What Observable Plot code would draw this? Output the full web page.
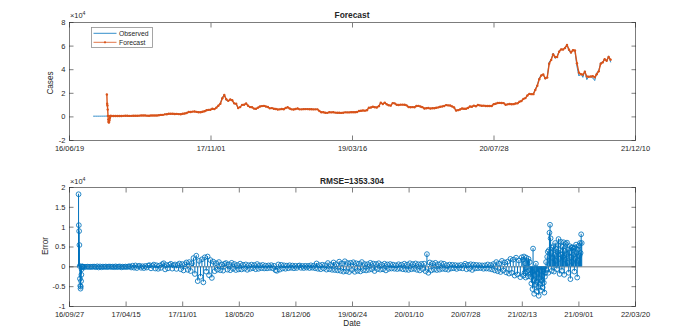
<!DOCTYPE html>
<html><head><meta charset="utf-8">
<script src="https://cdn.jsdelivr.net/npm/d3@7"></script>
<script src="https://cdn.jsdelivr.net/npm/@observablehq/plot@0.6"></script>
<style>
body{margin:0;background:#fff;}
#wrap{position:relative;width:692px;height:329px;font-family:"Liberation Sans",Arial,Helvetica,sans-serif;color:#262626;overflow:hidden;}
.abs{position:absolute;white-space:nowrap;line-height:1;}
.title{font-weight:bold;font-size:8.4px;transform:translate(-50%,-50%);}
.lab{font-size:8.2px;transform:translate(-50%,-50%);}
.rot{transform:translate(-50%,-50%) rotate(-90deg);}
.exp{font-size:7.4px;}
.exp sup{font-size:5.2px;vertical-align:0;position:relative;top:-3.5px;}
</style></head><body><div id="wrap"></div>
<script>
// ---------- data ----------
const seriesNames = ["Observed", "Forecast"];
const seriesColors = ["#0072BD", "#D95319"];
const topTitle = "Forecast";
const bottomTitle = "RMSE=1353.304";
const topYLabel = "Cases";
const bottomYLabel = "Error";
const bottomXLabel = "Date";

const topXDomain = ["2016-06-19", "2021-12-10"];
const topXTicks = ["2016-06-19", "2017-11-01", "2019-03-16", "2020-07-28", "2021-12-10"];
const topYDomain = [-20000, 80000];
const topYTicks = [-20000, 0, 20000, 40000, 60000, 80000];

const bottomXDomain = ["2016-09-27", "2022-03-20"];
const bottomXTicks = ["2016-09-27", "2017-04-15", "2017-11-01", "2018-05-20", "2018-12-06", "2019-06-24",
  "2020-01-10", "2020-07-28", "2021-02-13", "2021-09-01", "2022-03-20"];
const bottomYDomain = [-10000, 20000];
const bottomYTicks = [-10000, -5000, 0, 5000, 10000, 15000, 20000];

// observed cases, weekly from 2016-09-12
const observedStart = "2016-09-12";
const observedStepDays = 7;
const observed = [
  608,610,606,612,640,638,655,700,710,712,
  738,730,765,780,800,930,1020,900,830,920,
  965,1030,1000,1050,1190,1230,1240,1040,1030,1140,
  1180,1200,1250,1420,1720,1720,2250,2300,2700,2650,
  2700,2450,2600,2330,2250,2750,2850,3400,4300,4100,
  4550,4600,4200,3900,3900,4400,4800,5700,6000,6100,
  7000,6500,8000,9700,11500,16500,19000,14000,13500,15000,
  13800,11000,11200,7000,8500,10500,10300,11500,9100,8200,
  8100,6900,6800,8000,8900,9200,9400,8700,8400,7100,
  7500,6800,6700,6200,6400,6700,6500,7700,8200,7000,
  6300,6300,6800,7200,6300,6400,6600,6600,6600,6450,
  6500,6350,6400,6400,4800,3800,4000,3500,3400,4000,
  3800,4000,3600,3550,3450,3400,3600,3900,3800,3800,
  3900,4000,4000,4150,5150,5200,5400,5300,5700,8000,
  7900,8700,8100,8000,9200,12400,10500,12300,10500,9800,
  9500,11900,11400,10200,10100,10400,10400,10300,9700,8300,
  8200,8300,8200,9500,9300,8700,8200,7000,7400,7500,
  7000,7300,7300,7800,8100,8600,8900,9300,10100,9700,
  9600,8800,7900,5000,5800,6400,7200,6900,6900,7700,
  8900,8600,9700,8900,10200,9700,9400,9600,9200,9300,
  9250,9200,11000,11200,11800,11900,11700,11700,10100,10700,
  10900,10700,10800,11400,11500,13000,13600,15500,16000,18400,
  19700,19200,19300,23500,27000,33000,35500,36000,32000,33500,
  46500,48700,54000,49600,51000,56000,57500,57000,58700,61500,
  56000,54000,57000,56000,43000,34700,36600,33500,39000,31600,
  34500,34000,33000,30800,37300,39000,46000,46000,49500,47000,
  51700,46500
];

// forecast: daily start-up transient, then weekly
const forecastDailyStart = "2016-10-29";
const forecastDaily = [19000,11200,9700,6200,900,-2300,-4200,-4800,-4300,-2900,-1300,100,700,720];
const forecastWeeklyStart = "2016-11-14";
const forecastStepDays = 7;
const forecastWeekly = [
  705,730,735,758,776,792,905,1000,915,840,
  905,960,1020,1005,1040,1170,1225,1235,1060,1025,
  1130,1175,1195,1240,1390,1680,1730,2180,2280,2640,
  2680,2690,2500,2580,2370,2270,2680,2830,3320,4150,
  4180,4480,4580,4300,3950,3880,4330,4750,5580,5950,
  6080,6900,6620,7850,9500,11200,15800,18500,14900,13600,
  14700,14100,11500,11100,7600,8300,10200,10350,11300,9400,
  8300,8150,7050,6850,7850,8800,9150,9350,8800,8450,
  7250,7450,6900,6720,6280,6380,6660,6530,7580,8150,
  7120,6400,6310,6750,7150,6380,6390,6580,6600,6590,
  6470,6490,6370,6390,6410,5000,3950,3980,3560,3420,
  3930,3820,3980,3650,3560,3470,3410,3580,3870,3810,
  3800,3890,3990,4000,4130,5000,5190,5380,5310,5650,
  7800,7950,8600,8200,8010,9100,12000,10900,12100,10700,
  9900,9550,11700,11450,10300,10120,10380,10400,10310,9780,
  8450,8220,8290,8220,9300,9330,8760,8250,7150,7360,
  7490,7060,7270,7300,7750,8070,8550,8870,9260,10000,
  9760,9610,8900,8000,5400,5700,6330,7100,6940,6900,
  7600,8760,8640,9580,9000,10050,9760,9430,9580,9250,
  9290,9250,9210,10800,11180,11720,11890,11720,11700,10300,
  10640,10880,10720,10790,11330,11490,12800,13520,15250,15950,
  18100,19500,19300,19280,22900,26400,32000,35100,35900,32800,
  33300,45000,48300,53000,50800,50700,55200,57200,57100,58400,
  61000,57000,54600,56500,56300,45500,37500,36200,35800,38200,
  34200,34000,34200,34500,33600,36200,38600,45000,46200,48800,
  47600,50800,48500
];

// forecast error: daily start-up transient, every 5 days to mid-Feb 2021, then every 2 days
const errorDailyStart = "2016-10-29";
const errorDaily = [18300,10500,9000,5500,200,-3000,-4800,-5500,-5000,-3600,-2000,-600,100,30,-40,60];
const errorStart = "2016-11-14";
const errorStepDays = 5;
const errorValues = [
  20,-35,15,40,-25,30,-50,60,45,-70,
  120,-150,90,-110,60,-40,80,-55,35,70,
  -45,60,-80,110,-60,40,95,-130,50,-40,
  70,-55,90,140,
  -160,280,-220,350,-300,180,260,-240,150,-310,
  220,-180,320,420,-380,250,560,-420,380,-500,
  310,-260,680,900,-640,450,-380,520,760,-450,
  380,600,-520,450,820,-600,700,
  -900,650,1100,-750,1200,-1050,900,
  2200,-1800,2800,-3600,1500,-2500,1900,-3900,
  2400,-1200,2600,-2100,1700,-2800,1300,
  -1100,900,-700,1200,-850,600,-950,750,
  950,-700,600,-850,1000,-500,700,-800,450,-650,
  800,-650,500,-450,600,-750,400,-500,550,-350,
  450,-600,700,-500,380,-320,480,-400,300,-380,
  350,-280,420,-350,250,-850,-1000,600,-700,500,
  -420,380,-480,300,-350,400,-250,320,-360,260,
  -280,220,340,-250,230,-300,260,-200,240,-300,
  380,-220,280,-350,850,-500,400,-600,520,-380,
  420,-700,950,-600,520,-750,1100,-800,650,
  -900,1300,-1000,850,-1200,1400,-1100,950,-1300,1000,
  -800,1150,-1250,900,-1000,800,-1150,1200,-850,700,
  -900,650,-750,1000,-600,820,-1050,720,-550,900,
  -700,520,-620,780,-900,600,-520,700,-420,560,
  -480,400,-550,650,-450,520,-600,780,-700,560,
  -780,900,-600,700,-520,850,-760,640,-900,740,
  -560,800,-1100,
  3200,
  -1500,1100,-900,850,-700,1000,
  -800,600,-700,900,-500,780,-600,420,-720,560,
  -420,500,-350,440,-520,360,-300,460,-380,300,
  780,-600,500,-450,650,-780,560,-400,470,-340,
  420,-300,360,-480,380,-420,600,-500,440,-650,
  700,-900,1200,-1100,800,-1300,1500,-900,1100,-1400,
  1300,-1700,2000,-1500,1800,-2200,2300,-1900,1600,-2600,
  2400
];
const error2021Start = "2021-02-15";
const error2021StepDays = 2;
const error2021 = [
  1800,-2200,2600,-1500,900,-2700,2300,-1200,1500,-2400,
  2000,-900,1200,-1800,
  -2500,-4200,-1200,-5600,4600,-3300,-6800,-2000,-4500,800,
  -3800,-6200,-1500,-5000,-7300,-2800,-4300,-900,-6000,-3500,
  -2200,-5200,-1000,-4000,-6500,-2500,-1500,
  1200,-800,2500,3800,-1500,4200,8600,10600,7200,3500,
  -1000,4800,2200,5200,-1200,3000,6000,1500,4500,-600,
  3800,5500,7000,2000,-1800,4200,6300,3000,-1000,5000,
  2500,6200,-2000,4000,1800,5800,3200,6100,1000,4400,
  -1500,3600,5200,-3100,2400,4900,1200,4900,3000,4600,
  -1200,4900,2000,5600,3500,-2700,4300,1500,5300,2800,
  6000,3500,8200,6000
];

// ---------- build ----------
const parse = s => new Date(s + "T00:00:00Z");
const addDays = (s, n) => d3.utcDay.offset(parse(s), n);
const obsData = observed.map((v, i) => ({date: addDays(observedStart, observedStepDays * i), value: v}));
const fcData = forecastDaily.map((v, i) => ({date: addDays(forecastDailyStart, i), value: v}))
  .concat(forecastWeekly.map((v, i) => ({date: addDays(forecastWeeklyStart, forecastStepDays * i), value: v})));
const errData = errorDaily.map((v, i) => ({date: addDays(errorDailyStart, i), value: v}))
  .concat(errorValues.map((v, i) => ({date: addDays(errorStart, errorStepDays * i), value: v})))
  .concat(error2021.map((v, i) => ({date: addDays(error2021Start, error2021StepDays * i), value: v})));

const axisColor = "#262626";
const fontFamily = '"Liberation Sans", Arial, Helvetica, sans-serif';
const fmtX = d3.utcFormat("%y/%m/%d");
const fmtY = d => String(+(d / 1e4).toFixed(2));
const TICK = -4.5;

function axes(xTicks, yTicks) {
  const xt = xTicks.map(parse);
  const blank = () => "";
  const tickStyle = {stroke: axisColor, strokeWidth: 0.6, label: null, tickFormat: blank};
  return [
    Plot.axisX({ticks: xt, tickFormat: fmtX, tickSize: 0, tickPadding: 5.5, label: null, fill: axisColor}),
    Plot.axisX({anchor: "bottom", ticks: xt, tickSize: TICK, ...tickStyle}),
    Plot.axisX({anchor: "top", ticks: xt, tickSize: TICK, ...tickStyle}),
    Plot.axisY({ticks: yTicks, tickFormat: fmtY, tickSize: 0, tickPadding: 4, label: null, fill: axisColor}),
    Plot.axisY({anchor: "left", ticks: yTicks, tickSize: TICK, ...tickStyle}),
    Plot.axisY({anchor: "right", ticks: yTicks, tickSize: TICK, ...tickStyle})
  ];
}

const common = {
  width: 692,
  marginLeft: 69, marginRight: 57,
  style: {fontFamily, fontSize: "7.5px", color: axisColor, background: "white", overflow: "visible"}
};

const topPlot = Plot.plot({
  ...common,
  height: 160, marginTop: 22, marginBottom: 20,
  x: {type: "utc", domain: topXDomain.map(parse)},
  y: {domain: topYDomain},
  marks: [
    Plot.line(obsData, {x: "date", y: "value", stroke: seriesColors[0], strokeWidth: 0.8}),
    Plot.line(fcData, {x: "date", y: "value", stroke: seriesColors[1], strokeWidth: 1.4}),
    Plot.dot(fcData, {x: "date", y: "value", r: 1.2, fill: seriesColors[1], stroke: "none"}),
    Plot.frame({stroke: axisColor, strokeWidth: 0.6}),
    ...axes(topXTicks, topYTicks)
  ]
});

const bottomPlot = Plot.plot({
  ...common,
  height: 169, marginTop: 27, marginBottom: 23,
  x: {type: "utc", domain: bottomXDomain.map(parse)},
  y: {domain: bottomYDomain},
  marks: [
    Plot.ruleY([0], {stroke: axisColor, strokeWidth: 0.6}),
    Plot.ruleX(errData, {x: "date", y1: 0, y2: "value", stroke: seriesColors[0], strokeWidth: 1}),
    Plot.dot(errData, {x: "date", y: "value", r: 2.4, stroke: seriesColors[0], strokeWidth: 0.85, fill: "none"}),
    Plot.frame({stroke: axisColor, strokeWidth: 0.6}),
    ...axes(bottomXTicks, bottomYTicks)
  ]
});

const wrap = document.getElementById("wrap");
function place(el, left, top) {
  el.style.position = "absolute"; el.style.left = left + "px"; el.style.top = top + "px";
  wrap.appendChild(el);
}
place(topPlot, 0, 0);
place(bottomPlot, 0, 160);

function text(str, cls, x, y) {
  const d = document.createElement("div");
  d.className = "abs " + cls;
  d.textContent = str;
  d.style.left = x + "px"; d.style.top = y + "px";
  wrap.appendChild(d);
  return d;
}
text(topTitle, "title", 352, 15);
text(bottomTitle, "title", 352, 181);
text(topYLabel, "lab rot", 51, 83);
text(bottomYLabel, "lab rot", 46, 246);
text(bottomXLabel, "lab", 352, 324);

function exponent(x, y) {
  const d = document.createElement("div");
  d.className = "abs exp";
  d.innerHTML = "×10<sup>4</sup>";
  d.style.left = x + "px"; d.style.top = y + "px";
  wrap.appendChild(d);
}
exponent(70, 12);
exponent(70, 178);

// legend
const ns = "http://www.w3.org/2000/svg";
const lg = document.createElementNS(ns, "svg");
lg.setAttribute("width", 62); lg.setAttribute("height", 21);
lg.style.position = "absolute"; lg.style.left = "91px"; lg.style.top = "27px";
const mk = (tag, attrs) => { const e = document.createElementNS(ns, tag); for (const k in attrs) e.setAttribute(k, attrs[k]); lg.appendChild(e); return e; };
mk("rect", {x: 0.5, y: 0.5, width: 61, height: 20, fill: "white", stroke: "#8f8f8f", "stroke-width": 0.8});
seriesNames.forEach((name, i) => {
  const y = 6.3 + 9 * i;
  mk("line", {x1: 2.5, x2: 25.5, y1: y, y2: y, stroke: seriesColors[i], "stroke-width": 0.8});
  if (i === 1) mk("circle", {cx: 14, cy: y, r: 1.1, fill: seriesColors[i]});
  const t = mk("text", {x: 28, y: y, dy: "0.35em", "font-size": 6.8, fill: axisColor, "font-family": fontFamily});
  t.textContent = name;
});
wrap.appendChild(lg);
</script></body></html>
